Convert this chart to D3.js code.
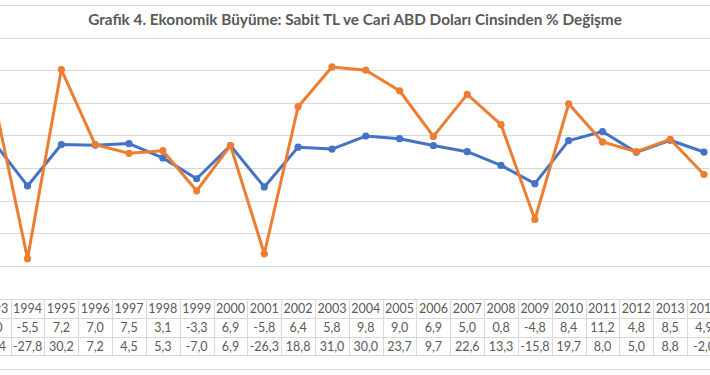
<!DOCTYPE html>
<html>
<head>
  <meta charset="utf-8">
  <style type="text/css">
    body { margin: 0; background: #fff; }
    svg { display: block; }
    text { font-family: Lato, "Open Sans", sans-serif; fill: #595959; }
  </style>
  <script src="https://d3js.org/d3.v7.min.js"></script>
</head>
<body>
  <div id="chart"></div>
  <script type="text/javascript">
    // data
    var years = [1993, 1994, 1995, 1996, 1997, 1998, 1999, 2000, 2001, 2002, 2003,
                 2004, 2005, 2006, 2007, 2008, 2009, 2010, 2011, 2012, 2013, 2014];
    var sabitTL = [8.0, -5.5, 7.2, 7.0, 7.5, 3.1, -3.3, 6.9, -5.8, 6.4, 5.8,
                   9.8, 9.0, 6.9, 5.0, 0.8, -4.8, 8.4, 11.2, 4.8, 8.5, 4.9];
    var cariUSD = [21.4, -27.8, 30.2, 7.2, 4.5, 5.3, -7.0, 6.9, -26.3, 18.8, 31.0,
                   30.0, 23.7, 9.7, 22.6, 13.3, -15.8, 19.7, 8.0, 5.0, 8.8, -2.0];
    var gridTicks = [-30, -20, -10, 0, 10, 20, 30, 40, 50];
    var title = "Grafik 4. Ekonomik Büyüme: Sabit TL ve Cari ABD Doları Cinsinden % Değişme";

    var width = 710, height = 375;

    var svg = d3.select("#chart").append("svg")
        .attr("width", width)
        .attr("height", height);

    // the screenshot is cropped: first and last columns are half off the frame
    var x = d3.scaleBand().domain(years).range([-23.2, 720.9]).padding(0);
    var y = d3.scaleLinear().domain([-30, 50]).range([265.8, 5]);
    var cx = function(yr) { return x(yr) + x.bandwidth() / 2; };

    // gridlines
    svg.append("g").selectAll("line")
      .data(gridTicks)
      .enter().append("line")
        .attr("x1", 0).attr("x2", width)
        .attr("y1", function(d) { return Math.round(y(d)) + 0.5; })
        .attr("y2", function(d) { return Math.round(y(d)) + 0.5; })
        .attr("stroke", "#d9d9d9")
        .attr("stroke-width", 1);

    // title band
    svg.append("rect")
      .attr("x", 0).attr("y", 6).attr("width", width).attr("height", 31)
      .attr("fill", "#fff");
    var t = svg.append("text")
      .attr("x", 355).attr("y", 25)
      .attr("text-anchor", "middle")
      .style("font-size", "13px")
      .style("font-weight", "bold")
      .text(title);
    var tw = t.node().getComputedTextLength();
    t.style("font-size", (13 * 534 / tw).toFixed(2) + "px");

    // series
    var series = [
      { name: "Sabit TL", values: sabitTL, color: "#4472C4" },
      { name: "Cari ABD Doları", values: cariUSD, color: "#ED7D31" }
    ];
    var line = d3.line()
      .x(function(d, i) { return cx(years[i]); })
      .y(function(d) { return y(d); });

    series.forEach(function(s) {
      var g = svg.append("g");
      g.append("path")
        .datum(s.values)
        .attr("d", line)
        .attr("fill", "none")
        .attr("stroke", s.color)
        .attr("stroke-width", 3)
        .attr("stroke-linejoin", "round");
      g.selectAll("circle")
        .data(s.values)
        .enter().append("circle")
          .attr("cx", function(d, i) { return cx(years[i]); })
          .attr("cy", function(d) { return y(d); })
          .attr("r", 3.6)
          .attr("fill", s.color);
    });

    // data table
    var rowLines = [299.5, 318.5, 337.5, 355.5];
    var table = svg.append("g");
    table.selectAll("line.h")
      .data(rowLines)
      .enter().append("line")
        .attr("class", "h")
        .attr("x1", 0).attr("x2", width)
        .attr("y1", function(d) { return d; }).attr("y2", function(d) { return d; })
        .attr("stroke", "#d9d9d9");
    table.selectAll("line.v")
      .data(years)
      .enter().append("line")
        .attr("class", "v")
        .attr("x1", function(d) { return Math.round(x(d)) + 0.5; })
        .attr("x2", function(d) { return Math.round(x(d)) + 0.5; })
        .attr("y1", rowLines[0]).attr("y2", rowLines[3])
        .attr("stroke", "#d9d9d9");

    svg.append("line")
      .attr("x1", 0).attr("x2", width)
      .attr("y1", 369.5).attr("y2", 369.5)
      .attr("stroke", "#d9d9d9");

    // comma decimals and a plain hyphen, as in the source table
    var fmt = function(v) { return d3.format(".1f")(v).replace(".", ",").replace("\u2212", "-"); };
    var rows = [
      { y: 309, cells: years.map(String) },
      { y: 328, cells: sabitTL.map(fmt) },
      { y: 347, cells: cariUSD.map(fmt) }
    ];
    rows.forEach(function(r) {
      table.append("g").selectAll("text")
        .data(r.cells)
        .enter().append("text")
          .attr("x", function(d, i) { return cx(years[i]); })
          .attr("y", r.y)
          .attr("dy", "0.35em")
          .attr("text-anchor", "middle")
          .style("font-size", "12.5px")
          .text(function(d) { return d; });
    });
  </script>
</body>
</html>
